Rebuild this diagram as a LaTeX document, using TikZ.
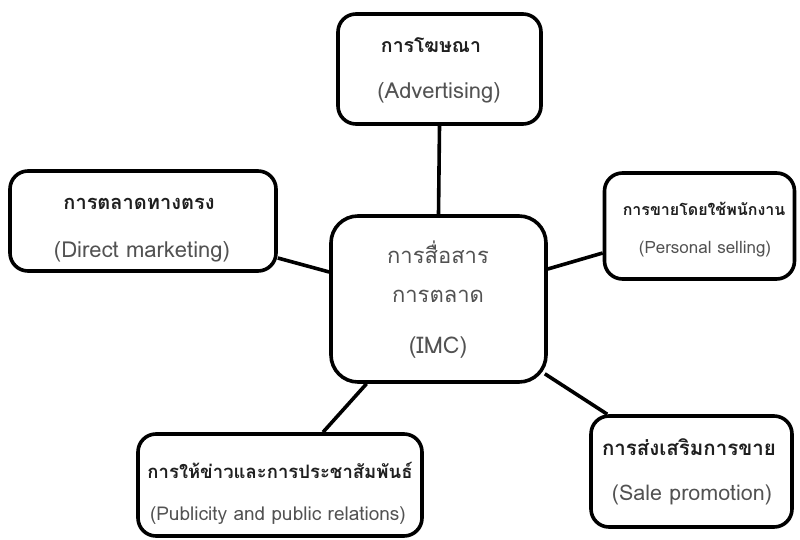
\documentclass[tikz,border=0pt]{standalone}
\usepackage{fontspec}
\setmainfont{Loma}[Script=Thai]
\begin{document}
\begin{tikzpicture}[x=1pt,y=-1pt,
  box/.style={draw=black, line width=3.6pt, rounded corners=18pt, fill=white, inner sep=0pt},
  bigbox/.style={box, rounded corners=27pt},
  link/.style={draw=black, line width=3.6pt},
  th/.style={anchor=base, text=black!88, font=\bfseries\fontsize{#1}{#1}\selectfont, inner sep=0pt},
  en/.style={anchor=base, text=black!68, font=\fontsize{#1}{#1}\selectfont, inner sep=0pt},
  mid/.style={anchor=base, text=black!68, font=\fontsize{#1}{#1}\selectfont, inner sep=0pt}]
\useasboundingbox (0,0) rectangle (800,540);
\fill[white] (0,0) rectangle (800,540);
% boxes
\node[box, minimum width=203pt, minimum height=110pt] (adv) at (439.5,69) {};
\node[box, minimum width=266pt, minimum height=100pt] (dir) at (143,221) {};
\node[box, minimum width=190pt, minimum height=106pt] (per) at (699.5,226) {};
\node[bigbox, minimum width=215pt, minimum height=166pt] (imc) at (438.5,299) {};
\node[box, minimum width=284pt, minimum height=102pt] (pub) at (280,485) {};
\node[box, minimum width=201pt, minimum height=111pt] (sal) at (691.5,471.5) {};
% connectors
\draw[link] (adv.south) -- (imc.north);
\draw[link] ([yshift=-37pt]dir.east) -- ([yshift=27pt]imc.west);
\draw[link] ([yshift=30pt]imc.east) -- ([yshift=-27pt]per.west);
\draw[link] ([xshift=-72pt]imc.south) -- ([xshift=43pt]pub.north);
\draw[link] ([xshift=-3pt,yshift=10pt]imc.south east) -- ([xshift=18pt]sal.north west);
% texts
\node[th=19.5] (advth) at (431,53) {การโฆษณา};
\node[en=22] (adven) at (439,99) {(Advertising)};
\node[th=20] (dirth) at (139,210) {การตลาดทางตรง};
\node[en=22] (diren) at (142,257) {(Direct marketing)};
\node[th=16] (perth) at (704,215) {การขายโดยใช้พนักงาน};
\node[en=17] (peren) at (705,253) {(Personal selling)};
\node[mid=22] (imc1) at (438,263) {การสื่อสาร};
\node[mid=22] (imc2) at (438,302) {การตลาด};
\node[mid=23] (imc3) at (438,353) {(IMC)};
\node[th=18.5] (pubth) at (280,478) {การให้ข่าวและการประชาสัมพันธ์};
\node[en=19] (puben) at (278,520) {(Publicity and public relations)};
\node[th=20.5] (salth) at (689,455) {การส่งเสริมการขาย};
\node[en=21.5] (salen) at (692,500) {(Sale promotion)};
\end{tikzpicture}
\end{document}
